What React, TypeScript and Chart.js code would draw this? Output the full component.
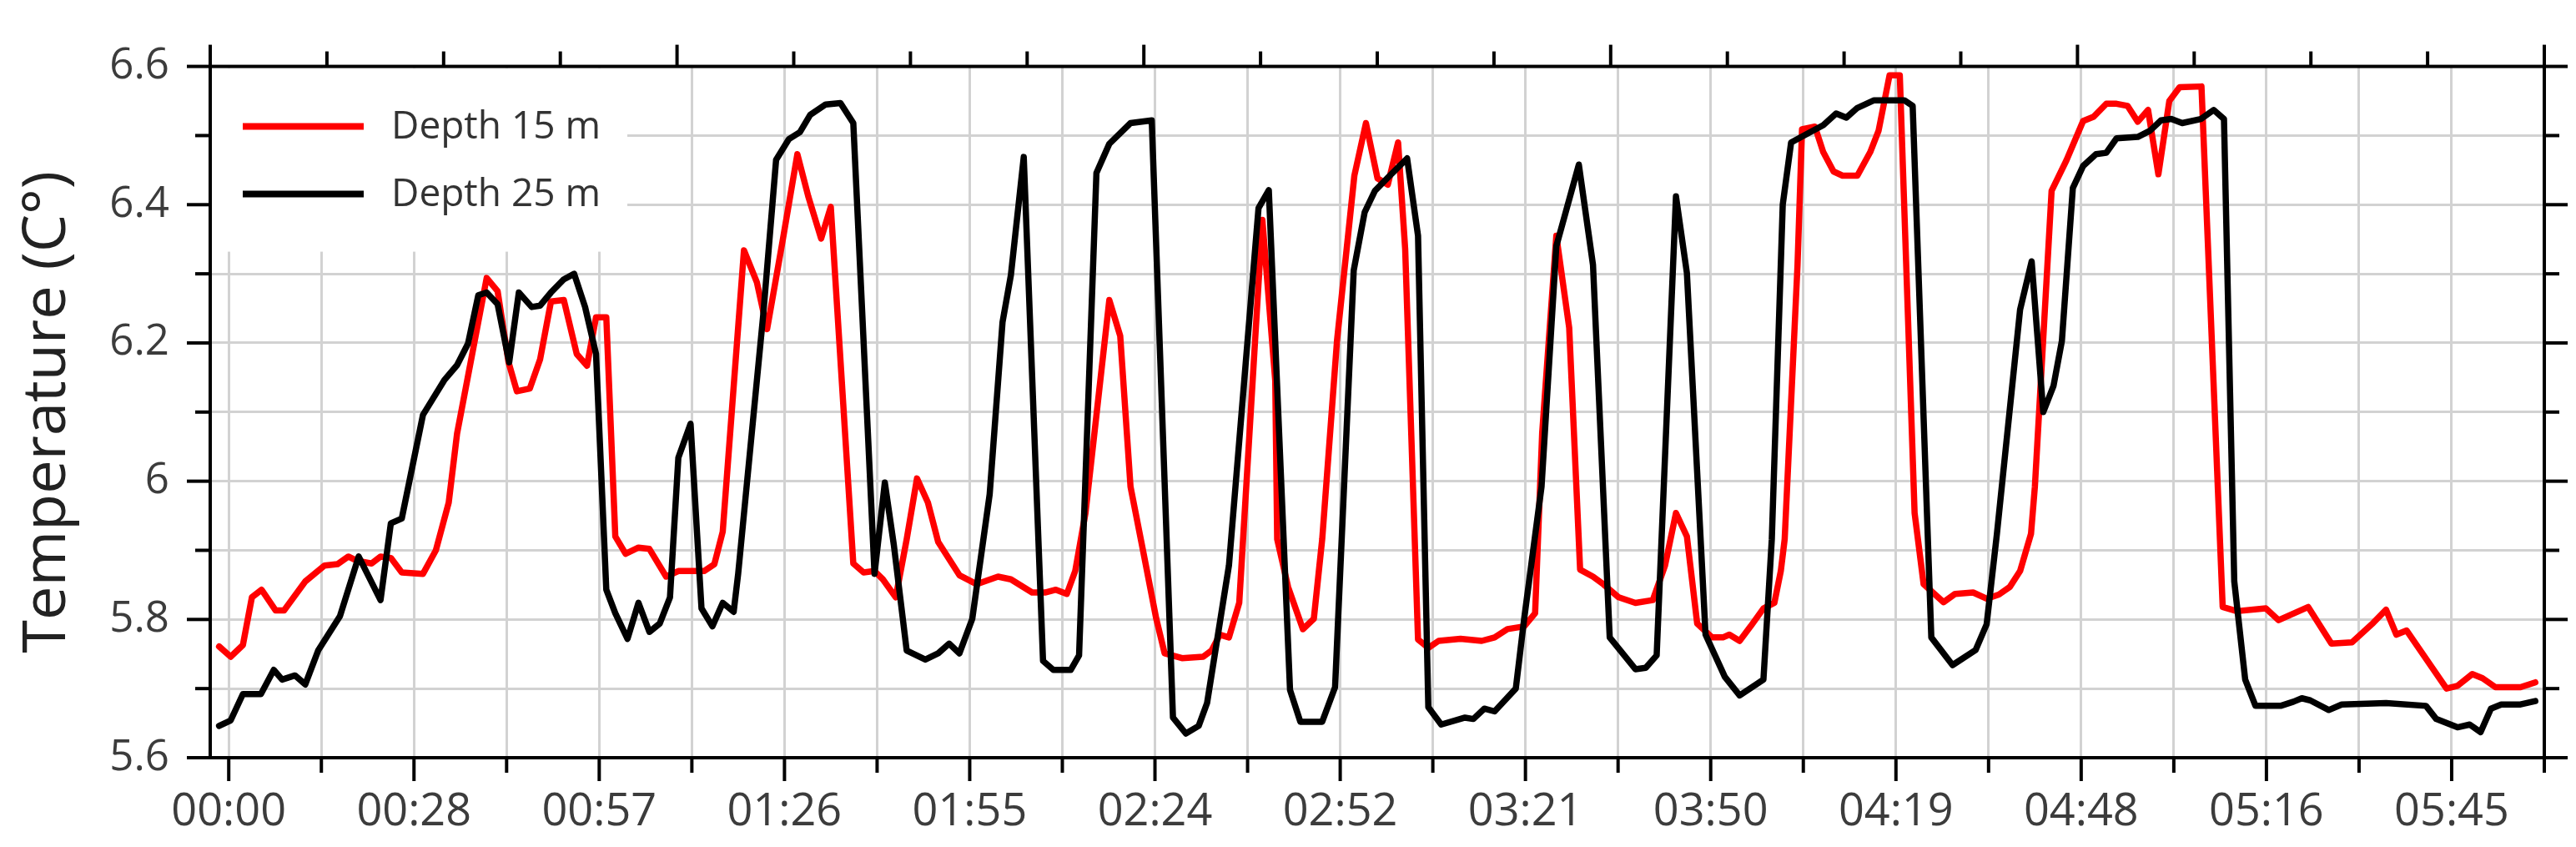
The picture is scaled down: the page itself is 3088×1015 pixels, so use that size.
import React, { useEffect, useRef } from 'react';
import { Chart, registerables } from 'chart.js';

Chart.register(...registerables);

const FONT = "'Open Sans', 'Noto Sans', 'DejaVu Sans', sans-serif";

// ---------------- data ----------------
const seriesLabels = ['Depth 15 m', 'Depth 25 m'];
const seriesColors = ['#ff0000', '#000000'];

// Depth 15 m (red): minutes since 00:00 and temperature (°C)
const depth15Minutes = [
  -1.5, 0.3, 2.2, 3.6, 5.1, 7.3, 8.6, 11.9, 14.9, 16.9,
  18.6, 19.9, 22.2, 23.6, 25.2, 26.9, 30.2, 32.2, 34.2, 35.5,
  40.1, 41.8, 43.5, 44.8, 46.8, 48.4, 50.1, 52.1, 54.1, 55.7,
  57.1, 58.7, 60.1, 61.7, 63.7, 65.4, 68.0, 69.9, 73.9, 75.5,
  76.8, 80.1, 82.1, 83.7, 86.1, 88.4, 90.1, 92.1, 93.6, 97.1,
  98.7, 100.4, 101.7, 103.7, 105.4, 107.0, 108.7, 110.3, 113.6, 116.3,
  119.6, 121.6, 124.9, 126.9, 128.6, 130.3, 131.6, 133.2, 136.9, 138.6,
  140.2, 142.2, 144.2, 145.5, 148.2, 151.5, 152.8, 154.1, 155.5, 157.1,
  160.7, 162.7, 163.0, 164.7, 167.0, 168.7, 170.0, 172.3, 175.0, 176.8,
  178.6, 180.2, 181.8, 182.9, 184.9, 186.5, 188.1, 191.5, 194.8, 196.8,
  198.8, 201.4, 203.1, 204.2, 206.4, 208.4, 210.1, 212.1, 213.7, 216.1,
  218.7, 221.4, 223.3, 225.0, 226.7, 228.3, 230.6, 232.3, 233.3, 234.9,
  236.6, 238.6, 240.3, 241.3, 241.9, 243.9, 244.6, 246.6, 247.9, 249.5,
  250.9, 253.2, 255.2, 256.5, 258.2, 259.8, 262.1, 263.5, 266.6, 268.4,
  271.2, 273.3, 275.2, 276.9, 278.5, 280.2, 280.8, 283.4, 285.7, 288.3,
  289.9, 291.9, 293.5, 295.2, 296.8, 298.4, 300.0, 301.7, 303.3, 306.7,
  310.0, 312.2, 316.7, 318.7, 323.3, 326.9, 330.1, 333.4, 335.4, 337.0,
  338.6, 344.8, 346.5, 348.8, 350.4, 352.4, 356.3, 358.6,
];
const depth15Temp = [
  5.761, 5.746, 5.763, 5.832, 5.843, 5.813, 5.813, 5.855, 5.878, 5.880,
  5.891, 5.885, 5.881, 5.891, 5.889, 5.868, 5.866, 5.900, 5.969, 6.069,
  6.294, 6.275, 6.172, 6.130, 6.134, 6.176, 6.260, 6.262, 6.184, 6.167,
  6.237, 6.237, 5.920, 5.895, 5.904, 5.902, 5.862, 5.870, 5.870, 5.880,
  5.927, 6.334, 6.288, 6.220, 6.347, 6.473, 6.412, 6.351, 6.397, 5.881,
  5.868, 5.870, 5.858, 5.832, 5.916, 6.004, 5.969, 5.912, 5.864, 5.851,
  5.862, 5.858, 5.839, 5.839, 5.843, 5.837, 5.870, 5.954, 6.262, 6.210,
  5.992, 5.897, 5.801, 5.751, 5.744, 5.746, 5.755, 5.778, 5.774, 5.824,
  6.378, 6.145, 5.916, 5.847, 5.786, 5.801, 5.916, 6.203, 6.442, 6.518,
  6.438, 6.429, 6.490, 6.336, 5.771, 5.759, 5.769, 5.772, 5.769, 5.774,
  5.786, 5.790, 5.809, 6.070, 6.355, 6.222, 5.872, 5.862, 5.851, 5.832,
  5.824, 5.828, 5.878, 5.954, 5.920, 5.794, 5.774, 5.774, 5.778, 5.769,
  5.790, 5.816, 5.824, 5.870, 5.916, 6.313, 6.509, 6.513, 6.476, 6.448,
  6.442, 6.442, 6.476, 6.507, 6.587, 6.587, 5.954, 5.851, 5.825, 5.837,
  5.839, 5.830, 5.836, 5.847, 5.870, 5.924, 5.992, 6.420, 6.464, 6.521,
  6.527, 6.546, 6.546, 6.543, 6.520, 6.537, 6.444, 6.550, 6.570, 6.571,
  5.818, 5.812, 5.816, 5.799, 5.818, 5.765, 5.767, 5.795, 5.814, 5.778,
  5.784, 5.700, 5.704, 5.721, 5.715, 5.702, 5.702, 5.709,
];

// Depth 25 m (black)
const depth25Minutes = [
  -1.5, 0.3, 2.2, 5.0, 7.0, 8.3, 10.3, 11.9, 13.9, 17.3,
  20.2, 23.6, 25.2, 26.9, 30.2, 33.5, 35.5, 37.2, 38.8, 40.1,
  41.8, 43.6, 45.1, 47.1, 48.4, 50.1, 52.1, 53.7, 55.4, 57.1,
  58.7, 60.1, 62.0, 63.7, 65.4, 67.0, 68.6, 69.9, 71.8, 73.5,
  75.2, 76.8, 78.5, 79.2, 83.1, 85.1, 87.1, 88.8, 90.4, 92.8,
  95.1, 97.1, 100.4, 102.0, 103.4, 105.4, 108.3, 110.3, 112.0, 113.6,
  115.6, 118.3, 120.3, 121.6, 123.6, 126.6, 128.2, 130.9, 132.2, 134.9,
  136.9, 140.2, 143.5, 146.8, 148.8, 150.8, 152.1, 155.5, 160.1, 161.7,
  165.0, 166.6, 170.0, 172.0, 174.9, 176.6, 178.2, 180.2, 183.2, 184.9,
  186.5, 188.5, 192.2, 193.5, 195.2, 196.8, 200.1, 201.4, 204.1, 206.4,
  209.9, 212.1, 214.7, 218.7, 220.3, 222.0, 225.0, 226.7, 229.6, 232.6,
  234.9, 238.6, 239.9, 241.6, 242.9, 245.9, 247.9, 249.9, 251.5, 253.2,
  255.8, 260.5, 261.8, 264.7, 268.0, 271.6, 273.3, 274.9, 278.5, 280.3,
  282.1, 283.7, 285.0, 286.7, 288.3, 290.3, 291.9, 293.5, 296.8, 298.7,
  300.4, 302.0, 303.7, 306.6, 308.6, 310.2, 311.8, 313.5, 315.1, 319.0,
  321.0, 322.3, 323.6, 326.5, 328.5, 335.4, 341.6, 343.2, 346.5, 348.4,
  350.1, 351.7, 353.3, 356.3, 358.6,
];
const depth25Temp = [
  5.646, 5.654, 5.692, 5.692, 5.727, 5.713, 5.719, 5.706, 5.755, 5.805,
  5.891, 5.828, 5.939, 5.946, 6.096, 6.146, 6.168, 6.199, 6.269, 6.273,
  6.256, 6.172, 6.273, 6.252, 6.254, 6.273, 6.292, 6.300, 6.252, 6.184,
  5.843, 5.809, 5.772, 5.824, 5.782, 5.794, 5.832, 6.034, 6.083, 5.816,
  5.790, 5.824, 5.811, 5.866, 6.241, 6.465, 6.495, 6.505, 6.530, 6.545,
  6.547, 6.518, 5.866, 5.998, 5.908, 5.755, 5.742, 5.751, 5.765, 5.751,
  5.801, 5.981, 6.230, 6.298, 6.469, 5.740, 5.727, 5.727, 5.748, 6.446,
  6.488, 6.518, 6.522, 5.658, 5.635, 5.646, 5.679, 5.878, 6.395, 6.421,
  5.698, 5.652, 5.652, 5.702, 6.305, 6.389, 6.420, 6.439, 6.467, 6.355,
  5.673, 5.648, 5.658, 5.656, 5.671, 5.667, 5.700, 5.801, 5.992, 6.340,
  6.458, 6.313, 5.774, 5.728, 5.730, 5.748, 6.412, 6.301, 5.778, 5.717,
  5.690, 5.713, 5.916, 6.400, 6.490, 6.505, 6.515, 6.532, 6.526, 6.540,
  6.551, 6.551, 6.543, 5.774, 5.734, 5.756, 5.793, 5.924, 6.248, 6.318,
  6.100, 6.138, 6.203, 6.424, 6.456, 6.473, 6.475, 6.496, 6.498, 6.507,
  6.522, 6.524, 6.518, 6.524, 6.537, 6.524, 5.855, 5.713, 5.675, 5.675,
  5.681, 5.686, 5.683, 5.669, 5.677, 5.679, 5.675, 5.656, 5.644, 5.648,
  5.637, 5.671, 5.677, 5.677, 5.682,
];

// axis definitions
const xTickLabels = [
  '00:00', '00:28', '00:57', '01:26', '01:55', '02:24', '02:52',
  '03:21', '03:50', '04:19', '04:48', '05:16', '05:45',
];
const xMinorStepMinutes = 14.4; // 0.01 day
const xMinorTickCount = 26; // 0 .. 360 min
const xMinMinutes = -2.88;
const xMaxMinutes = 360;
const topTickIntervals = 20;
const yTickValues = [5.6, 5.7, 5.8, 5.9, 6.0, 6.1, 6.2, 6.3, 6.4, 6.5, 6.6];
const yLabelValues = [5.6, 5.8, 6.0, 6.2, 6.4, 6.6];
const yAxisTitle = 'Temperature (C°)';

// ---------------- layout / style ----------------
const W = 3088;
const H = 1015;
const GRID = '#d2d2d2';
const TICK_TEXT = '#3c3c3c';

const isYLabel = (v: number) => yLabelValues.some((l) => Math.abs(l - v) < 1e-6);

const framePlugin = {
  id: 'frame',
  beforeDatasetsDraw(chart: any) {
    const { ctx, chartArea: a } = chart;
    ctx.save();
    ctx.fillStyle = '#ffffff';
    ctx.fillRect(a.left + 2, a.top + 2, 498, 220);
    ctx.restore();
  },
  afterDatasetsDraw(chart: any) {
    const { ctx, chartArea: a, scales } = chart;
    const xs = scales.x;
    const ys = scales.y;
    ctx.save();
    ctx.strokeStyle = '#000';
    ctx.lineWidth = 4;
    ctx.lineCap = 'butt';
    const line = (x1: number, y1: number, x2: number, y2: number) => {
      ctx.beginPath();
      ctx.moveTo(x1, y1);
      ctx.lineTo(x2, y2);
      ctx.stroke();
    };
    // left & right ticks
    yTickValues.forEach((v) => {
      const py = ys.getPixelForValue(v);
      const len = isYLabel(v) ? 28 : 18;
      line(a.left - len, py, a.left, py);
      line(a.right, py, a.right + len, py);
    });
    // bottom ticks
    xs.ticks.forEach((t: any, i: number) => {
      const px = xs.getPixelForValue(t.value);
      const len = i % 2 === 0 ? 28 : 18;
      line(px, a.bottom, px, a.bottom + len);
    });
    // top ticks
    for (let i = 0; i <= topTickIntervals; i++) {
      const v = xMinMinutes + ((xMaxMinutes - xMinMinutes) * i) / topTickIntervals;
      const px = xs.getPixelForValue(v);
      const len = i % 4 === 0 ? 26 : 18;
      line(px, a.top - len, px, a.top);
    }
    // frame
    ctx.lineJoin = 'miter';
    ctx.strokeRect(a.left, a.top, a.right - a.left, a.bottom - a.top);

    // legend
    chart.data.datasets.forEach((ds: any, i: number) => {
      const cy = a.top + 72 + i * 81;
      ctx.strokeStyle = ds.borderColor;
      ctx.lineWidth = 8;
      line(a.left + 39, cy, a.left + 184, cy);
      ctx.fillStyle = '#333333';
      ctx.font = `46px ${FONT}`;
      ctx.textBaseline = 'middle';
      ctx.textAlign = 'left';
      ctx.fillText(ds.label, a.left + 217, cy + 1);
    });
    ctx.restore();
  },
};

export default function App() {
  const ref = useRef<HTMLCanvasElement>(null);
  useEffect(() => {
    document.body.style.margin = '0';
    document.documentElement.style.overflow = 'hidden';
    const canvas = ref.current!;
    const toPoints = (xs: number[], ys: number[]) => xs.map((x, i) => ({ x, y: ys[i] }));
    const chart = new Chart(canvas, {
      type: 'line',
      data: {
        datasets: [
          {
            label: seriesLabels[0],
            data: toPoints(depth15Minutes, depth15Temp),
            borderColor: seriesColors[0],
            backgroundColor: seriesColors[0],
            borderWidth: 7.5,
            pointRadius: 0,
            tension: 0,
            fill: false,
            borderJoinStyle: 'round',
            borderCapStyle: 'round',
            order: 1,
          },
          {
            label: seriesLabels[1],
            data: toPoints(depth25Minutes, depth25Temp),
            borderColor: seriesColors[1],
            backgroundColor: seriesColors[1],
            borderWidth: 7.5,
            pointRadius: 0,
            tension: 0,
            fill: false,
            borderJoinStyle: 'round',
            borderCapStyle: 'round',
            order: 0,
          },
        ],
      },
      options: {
        animation: false,
        responsive: false,
        devicePixelRatio: 1,
        layout: { padding: { left: 0, top: 35, right: 38, bottom: 0 } },
        plugins: {
          legend: { display: false },
          tooltip: { enabled: false },
          title: { display: false },
        },
        scales: {
          x: {
            type: 'linear',
            min: xMinMinutes,
            max: xMaxMinutes,
            afterBuildTicks: (s: any) => {
              s.ticks = Array.from({ length: xMinorTickCount }, (_, i) => ({ value: i * xMinorStepMinutes }));
            },
            afterFit: (s: any) => {
              s.height = 107;
            },
            ticks: {
              autoSkip: false,
              maxRotation: 0,
              minRotation: 0,
              padding: 33,
              color: TICK_TEXT,
              font: { family: FONT, size: 54 },
              callback: (_v: any, i: number) => (i % 2 === 0 ? xTickLabels[i / 2] ?? '' : ''),
            },
            grid: { color: GRID, lineWidth: 3, drawTicks: false },
            border: { display: false },
          },
          y: {
            type: 'linear',
            min: 5.6,
            max: 6.6,
            afterBuildTicks: (s: any) => {
              s.ticks = yTickValues.map((v) => ({ value: v }));
            },
            afterFit: (s: any) => {
              s.width = 252;
            },
            ticks: {
              autoSkip: false,
              padding: 49,
              color: TICK_TEXT,
              font: { family: FONT, size: 51 },
              callback: (v: any) => (isYLabel(Number(v)) ? String(Number(Number(v).toFixed(1))) : ''),
            },
            grid: { color: GRID, lineWidth: 3, drawTicks: false },
            border: { display: false },
            title: {
              display: true,
              text: yAxisTitle,
              color: '#222222',
              font: { family: FONT, size: 72 },
              padding: { top: 14, bottom: 0 },
            },
          },
        },
      },
      plugins: [framePlugin],
    } as any);
    return () => chart.destroy();
  }, []);
  return (
    <canvas
      ref={ref}
      width={W}
      height={H}
      style={{ display: 'block', width: `${W}px`, height: `${H}px` }}
    />
  );
}
